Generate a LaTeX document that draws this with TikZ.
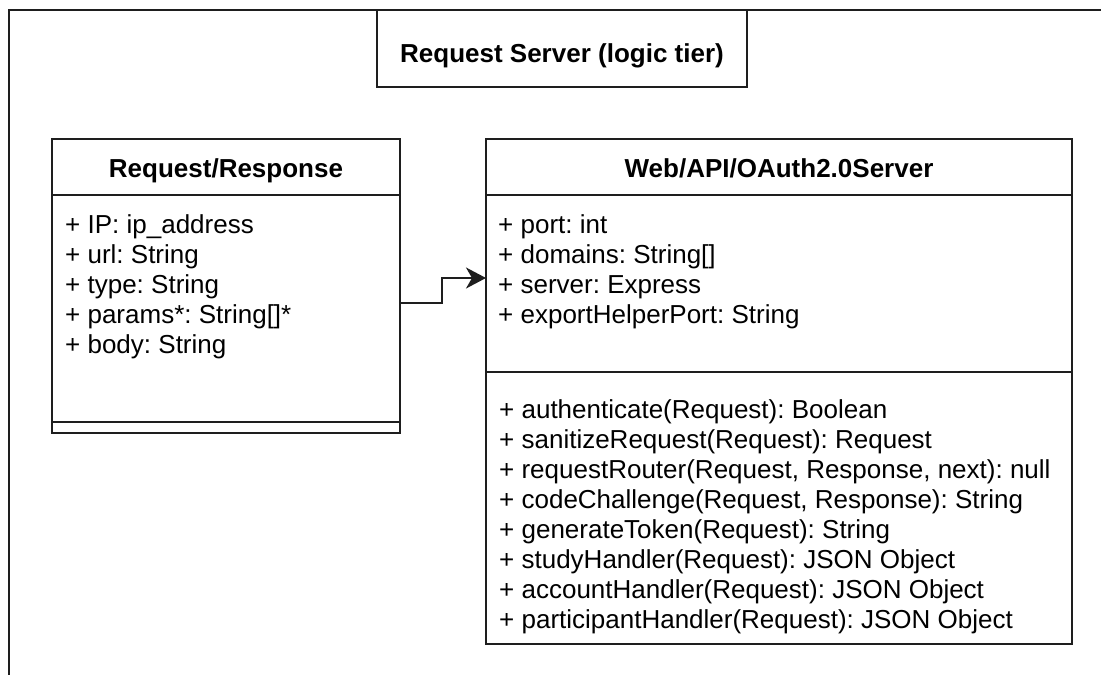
\documentclass[tikz,border=0pt]{standalone}
\usepackage{fontspec}
\setmainfont{Liberation Sans}
\usetikzlibrary{arrows.meta,calc}
\definecolor{ink}{HTML}{1E1E1E}
\frenchspacing
\begin{document}
\begin{tikzpicture}[x=1pt,y=-1pt,
  line/.style={draw=ink,line width=2pt},
  box/.style={line,inner sep=0pt,outer sep=0pt,anchor=north west},
  head/.style={anchor=base,inner sep=0pt,font=\fontsize{26pt}{30pt}\selectfont\bfseries},
  member/.style={anchor=base west,inner sep=0pt,font=\fontsize{26pt}{30pt}\selectfont},
  link/.style={line,-{Stealth[length=20pt,width=21pt,inset=6pt]}}]

\useasboundingbox (0,0) rectangle (1101,675);
\clip (0,0) rectangle (1101,675);

% enclosing tier frame (runs off the page to the right and bottom)
\draw[line] (1120,10) -- (9,10) -- (9,700);

% tier title
\node[box,minimum width=370pt,minimum height=77pt] (title) at (377,10) {};
\node[head] (titletext) at ($(title.north)+(0,52)$) {Request Server (logic tier)};

% Request/Response class
\node[box,minimum width=348pt,minimum height=294pt] (rr) at (52,139) {};
\node[head] (rrname) at ($(rr.north)+(0,38)$) {Request/Response};
\draw[line] ($(rr.north west)+(0,56)$) -- ($(rr.north east)+(0,56)$);
\draw[line] ($(rr.north west)+(0,283)$) -- ($(rr.north east)+(0,283)$);
\foreach \t [count=\i from 0] in {+ IP: ip\_address,+ url: String,+ type: String,{+ params*: String[]*},+ body: String}
  \node[member] (rra\i) at ($(rr.north west)+(13,94+30*\i)$) {\t};

% Web/API/OAuth2.0 server class
\node[box,minimum width=586pt,minimum height=505pt] (web) at (486,139) {};
\node[head] (webname) at ($(web.north)+(0,38)$) {Web/API/OAuth2.0Server};
\draw[line] ($(web.north west)+(0,56)$) -- ($(web.north east)+(0,56)$);
\draw[line] ($(web.north west)+(0,233)$) -- ($(web.north east)+(0,233)$);
\foreach \t [count=\i from 0] in {+ port: int,{+ domains: String[]},+ server: Express,+ exportHelperPort: String}
  \node[member] (wa\i) at ($(web.north west)+(12,94+30*\i)$) {\t};
\foreach \t [count=\i from 0] in {+ authenticate(Request): Boolean,
    + sanitizeRequest(Request): Request,
    {+ requestRouter(Request, Response, next): null},
    {+ codeChallenge(Request, Response): String},
    + generateToken(Request): String,
    + studyHandler(Request): JSON Object,
    + accountHandler(Request): JSON Object,
    + participantHandler(Request): JSON Object}
  \node[member] (wm\i) at ($(web.north west)+(13,279+30*\i)$) {\t};

% association
\draw[link] ([yshift=-17pt]rr.east) -- ++(42,0) |- ([yshift=113.5pt]web.west);
\end{tikzpicture}
\end{document}
